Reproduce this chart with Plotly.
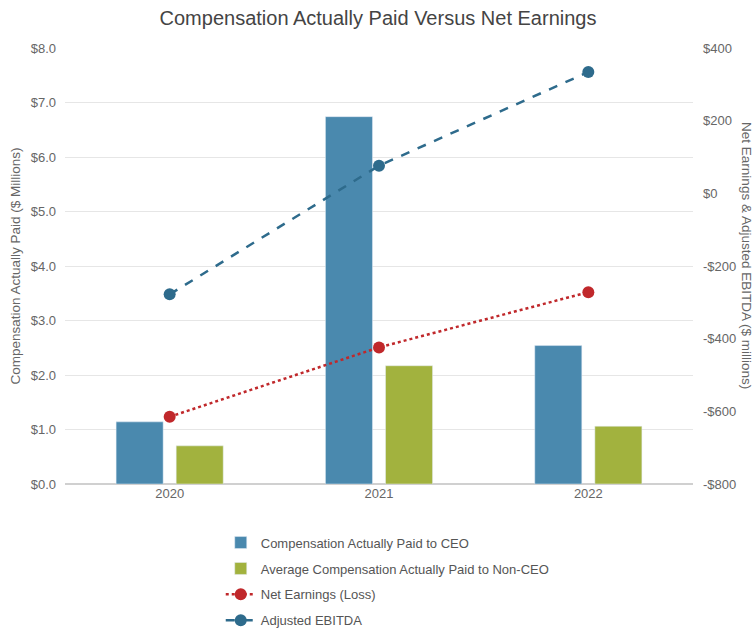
import plotly.graph_objects as go

years = ["2020", "2021", "2022"]
ceo_cap = [1.14, 6.74, 2.54]
non_ceo_cap = [0.70, 2.17, 1.06]
net_earnings = [-615, -424, -272]
adj_ebitda = [-278, 76, 334]

left_ticks = [0, 1, 2, 3, 4, 5, 6, 7, 8]
left_labels = ["$0.0", "$1.0", "$2.0", "$3.0", "$4.0", "$5.0", "$6.0", "$7.0", "$8.0"]
right_ticks = [-800, -600, -400, -200, 0, 200, 400]
right_labels = ["-$800", "-$600", "-$400", "-$200", "$0", "$200", "$400"]

FONT = "Arial, Liberation Sans, sans-serif"
GREY = "#666666"

fig = go.Figure()
fig.add_trace(go.Bar(x=years, y=ceo_cap, name="Compensation Actually Paid to CEO",
                     marker=dict(color="#4a89ae"), legendgroup="a"))
fig.add_trace(go.Bar(x=years, y=non_ceo_cap, name="Average Compensation Actually Paid to Non-CEO",
                     marker=dict(color="#a2b23e"), legendgroup="b"))
fig.add_trace(go.Scatter(x=years, y=net_earnings, name="Net Earnings (Loss)", yaxis="y2",
                         mode="lines+markers", line=dict(color="#c0282b", width=2.5, dash="dot"),
                         marker=dict(size=12, color="#c0282b"), legendgroup="c"))
fig.add_trace(go.Scatter(x=years, y=adj_ebitda, name="Adjusted EBITDA", yaxis="y2",
                         mode="lines+markers", line=dict(color="#2e6b8c", width=2.5, dash="dash"),
                         marker=dict(size=12, color="#2e6b8c"), legendgroup="d"))

fig.update_layout(
    width=756, height=631,
    margin=dict(l=65, r=63, t=48, b=147, autoexpand=False),
    paper_bgcolor="white", plot_bgcolor="white",
    font=dict(family=FONT, color=GREY, size=13),
    title=dict(text="Compensation Actually Paid Versus Net Earnings", x=0.5, xanchor="center",
               y=0.971, yanchor="middle", font=dict(size=20, color="#444444")),
    barmode="group", bargap=0.426, bargroupgap=0.217,
    xaxis=dict(showgrid=False, showline=False, ticks="", tickfont=dict(size=13, color=GREY)),
    yaxis=dict(range=[0, 8], tickvals=left_ticks, ticktext=left_labels, showgrid=True,
               gridcolor="#e6e6e6", gridwidth=1, zeroline=True, zerolinecolor="#d0d0d0",
               zerolinewidth=1.5, showline=False, tickfont=dict(size=13, color=GREY),
               ticklabelstandoff=8,
               title=dict(text="Compensation Actually Paid ($ Millions)", font=dict(size=13.5, color=GREY),
                          standoff=6)),
    yaxis2=dict(range=[-800, 400], tickvals=right_ticks, ticktext=right_labels, overlaying="y",
                side="right", showgrid=False, zeroline=False, showline=False,
                ticklabelstandoff=9, tickfont=dict(size=13, color=GREY)),
    legend=dict(x=0.248, xanchor="left", y=-0.1, yanchor="top", orientation="v",
                traceorder="grouped", tracegroupgap=6, font=dict(size=13, color="#555555"),
                bgcolor="rgba(0,0,0,0)"),
    annotations=[dict(text="Net Earnings & Adjusted EBITDA ($ millions)", textangle=90,
                      xref="paper", yref="paper", x=1.0 + 54 / 628, y=0.525, xanchor="center",
                      yanchor="middle", showarrow=False, font=dict(size=13.5, color=GREY))],
)

fig.write_html("out.html")
